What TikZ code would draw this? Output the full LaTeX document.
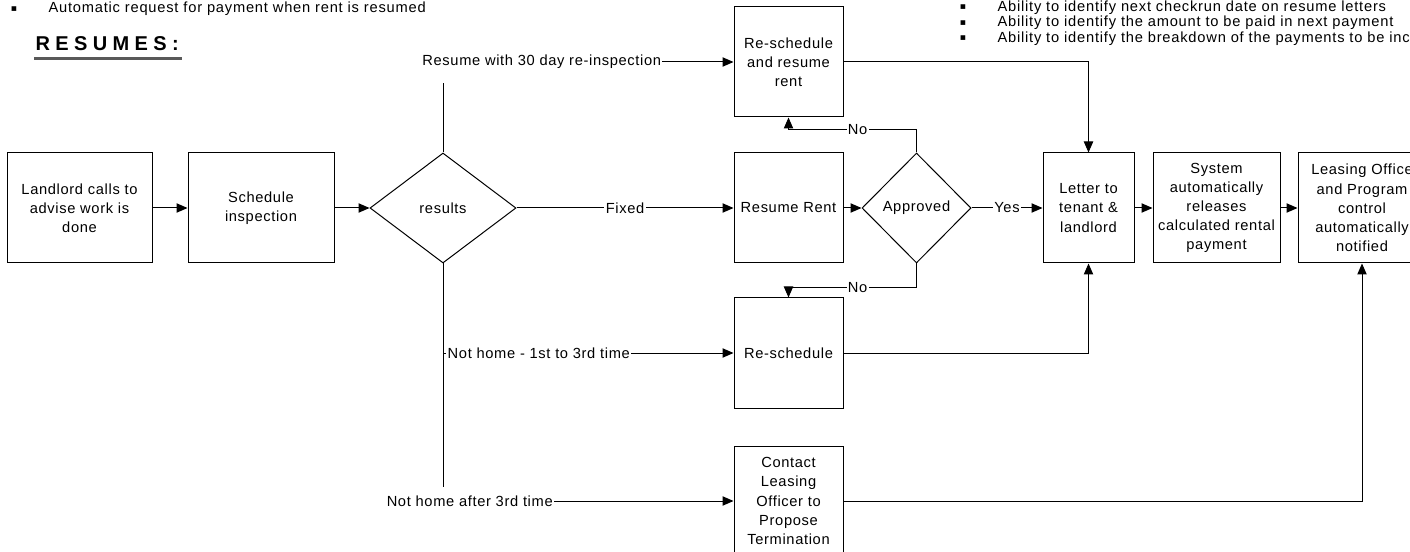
\documentclass[tikz,border=0pt]{standalone}
\usepackage{fontspec}
\setmainfont{Liberation Sans}[LetterSpace=4.5]
\newfontfamily\hdrfont{Liberation Sans}[LetterSpace=5.4]
\newfontfamily\bulletfont{DejaVu Sans}
\newfontfamily\titlefont{Liberation Sans}[LetterSpace=27]
\usetikzlibrary{shapes.geometric,arrows.meta}
\begin{document}
\begin{tikzpicture}[x=0.75pt,y=-0.75pt,
  font=\fontsize{11}{14.4}\selectfont, line width=0.75pt,
  box/.style={draw, rectangle, align=center, inner sep=0pt},
  dia/.style={draw, diamond, inner sep=0pt, align=center, minimum height=82.5pt},
  lbl/.style={fill=white, inner xsep=1pt, inner ysep=1pt},
  arr/.style={-{Triangle[length=8.25pt,width=7pt]}},
  hdr/.style={anchor=west, inner sep=0pt, font=\hdrfont\fontsize{11}{14.4}\selectfont},
  bul/.style={inner sep=0pt, font=\bulletfont\fontsize{7}{8}\selectfont}]
\useasboundingbox (0,0) rectangle (1410,552);

% header texts
\node[bul] (bl1) at (14,9) {▪};
\node[hdr] (tl1) at (48,9) {Automatic request for payment when rent is resumed};
\node[anchor=base west, inner sep=0pt, font=\titlefont\bfseries\fontsize{15}{18}\selectfont] (title) at (35,50.7) {RESUMES:};
\draw[line width=2pt, black!65] (title.base west) ++(-1,8) -- ++(148,0);

\node[bul] (br1) at (963,7.5) {▪};
\node[hdr] (tr1) at (997,7.5) {Ability to identify next checkrun date on resume letters};
\node[bul] (br2) at (963,23) {▪};
\node[hdr] (tr2) at (997,23) {Ability to identify the amount to be paid in next payment};
\node[bul] (br3) at (963,38.5) {▪};
\node[hdr] (tr3) at (997,38.5) {Ability to identify the breakdown of the payments to be included};

% boxes
\node[box, minimum width=108.75pt, minimum height=82.5pt] (b1) at (79.5,208) {Landlord calls to\\advise work is\\done};
\node[box, minimum width=109.5pt, minimum height=82.5pt] (b2) at (261,208) {Schedule\\inspection};
\node[dia, minimum width=109.5pt] (res) at (443,208) {results};
\node[box, minimum width=81.75pt, minimum height=82.5pt] (rr) at (788.5,208) {Resume Rent};
\node[dia, minimum width=81.75pt] (appr) at (916.5,208) {Approved};
\node[box, minimum width=68.25pt, minimum height=82.5pt] (let) at (1088.5,208) {Letter to\\tenant \&\\landlord};
\node[box, minimum width=95.25pt, minimum height=82.5pt] (sys) at (1216.5,208) {System\\automatically\\releases\\calculated rental\\payment};
\node[box, minimum width=96pt, minimum height=82.5pt] (lo) at (1362,208) {Leasing Office\\and Program\\control\\automatically\\notified};
\node[box, minimum width=81.75pt, minimum height=82.5pt] (rsr) at (788.5,62) {Re-schedule\\and resume\\rent};
\node[box, minimum width=81.75pt, minimum height=82.5pt] (rs) at (788.5,353) {Re-schedule};
\node[box, minimum width=81.75pt, minimum height=82.5pt] (ct) at (788.5,501) {Contact\\Leasing\\Officer to\\Propose\\Termination};

% connectors
\draw[arr] (b1) -- (b2);
\draw[arr] (b2) -- (res);
\draw[arr] (res) -- node[lbl]{Fixed} (rr);
\draw[arr] (rr) -- (appr);
\draw[arr] (appr) -- node[lbl]{Yes} (let);
\draw[arr] (appr.north) -- ++(0,-23) -| node[lbl, pos=0.23]{No} (rsr.south);
\draw[arr] (appr.south) -- ++(0,24) -| node[lbl, pos=0.23]{No} (rs.north);
\draw[arr] (res.north) |- node[lbl, pos=0.67, minimum height=31.5pt]{Resume with 30 day re-inspection} (rsr.west);
\draw[arr] (res.south) |- node[lbl, pos=0.505, anchor=west]{Not home - 1st to 3rd time} (rs.west);
\draw[arr] (res.south) |- node[lbl, pos=0.546, minimum height=21pt]{Not home after 3rd time} (ct.west);
\draw[arr] (rsr.east) -| (let.north);
\draw[arr] (rs.east) -| (let.south);
\draw[arr] (let) -- (sys);
\draw[arr] (sys) -- (lo);
\draw[arr] (ct.east) -| (lo.south);
\end{tikzpicture}
\end{document}
